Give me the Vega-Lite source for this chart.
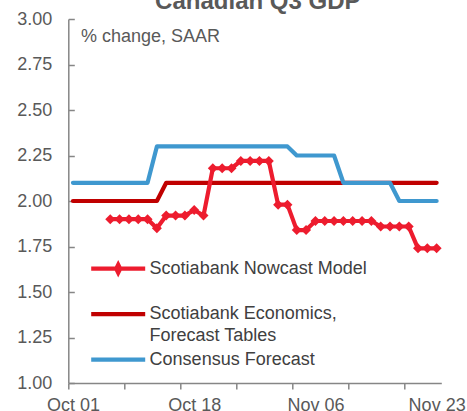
{
  "$schema": "https://vega.github.io/schema/vega-lite/v6.json",
  "autosize": {"type": "none"},
  "width": 373,
  "height": 364,
  "padding": {"left": 68.3, "top": 19, "right": 25.7, "bottom": 28},
  "background": "white",
  "title": {
    "text": "Canadian Q3 GDP",
    "anchor": "middle",
    "frame": "group",
    "baseline": "alphabetic",
    "offset": 0,
    "dy": 23,
    "dx": 3,
    "fontSize": 24,
    "fontWeight": "bold",
    "font": "Liberation Sans",
    "color": "#595959"
  },
  "config": {
    "view": {"stroke": null},
    "font": "Liberation Sans",
    "axis": {"grid": false, "title": null}
  },
  "datasets": {
    "gdp": [
      {"date": "2018-10-01", "series": "Scotiabank Economics, Forecast Tables", "value": 2.0},
      {"date": "2018-10-02", "series": "Scotiabank Economics, Forecast Tables", "value": 2.0},
      {"date": "2018-10-03", "series": "Scotiabank Economics, Forecast Tables", "value": 2.0},
      {"date": "2018-10-04", "series": "Scotiabank Economics, Forecast Tables", "value": 2.0},
      {"date": "2018-10-05", "series": "Scotiabank Economics, Forecast Tables", "value": 2.0},
      {"date": "2018-10-08", "series": "Scotiabank Economics, Forecast Tables", "value": 2.0},
      {"date": "2018-10-09", "series": "Scotiabank Economics, Forecast Tables", "value": 2.0},
      {"date": "2018-10-10", "series": "Scotiabank Economics, Forecast Tables", "value": 2.0},
      {"date": "2018-10-11", "series": "Scotiabank Economics, Forecast Tables", "value": 2.0},
      {"date": "2018-10-12", "series": "Scotiabank Economics, Forecast Tables", "value": 2.0},
      {"date": "2018-10-15", "series": "Scotiabank Economics, Forecast Tables", "value": 2.1},
      {"date": "2018-10-16", "series": "Scotiabank Economics, Forecast Tables", "value": 2.1},
      {"date": "2018-10-17", "series": "Scotiabank Economics, Forecast Tables", "value": 2.1},
      {"date": "2018-10-18", "series": "Scotiabank Economics, Forecast Tables", "value": 2.1},
      {"date": "2018-10-19", "series": "Scotiabank Economics, Forecast Tables", "value": 2.1},
      {"date": "2018-10-22", "series": "Scotiabank Economics, Forecast Tables", "value": 2.1},
      {"date": "2018-10-23", "series": "Scotiabank Economics, Forecast Tables", "value": 2.1},
      {"date": "2018-10-24", "series": "Scotiabank Economics, Forecast Tables", "value": 2.1},
      {"date": "2018-10-25", "series": "Scotiabank Economics, Forecast Tables", "value": 2.1},
      {"date": "2018-10-26", "series": "Scotiabank Economics, Forecast Tables", "value": 2.1},
      {"date": "2018-10-29", "series": "Scotiabank Economics, Forecast Tables", "value": 2.1},
      {"date": "2018-10-30", "series": "Scotiabank Economics, Forecast Tables", "value": 2.1},
      {"date": "2018-10-31", "series": "Scotiabank Economics, Forecast Tables", "value": 2.1},
      {"date": "2018-11-01", "series": "Scotiabank Economics, Forecast Tables", "value": 2.1},
      {"date": "2018-11-02", "series": "Scotiabank Economics, Forecast Tables", "value": 2.1},
      {"date": "2018-11-05", "series": "Scotiabank Economics, Forecast Tables", "value": 2.1},
      {"date": "2018-11-06", "series": "Scotiabank Economics, Forecast Tables", "value": 2.1},
      {"date": "2018-11-07", "series": "Scotiabank Economics, Forecast Tables", "value": 2.1},
      {"date": "2018-11-08", "series": "Scotiabank Economics, Forecast Tables", "value": 2.1},
      {"date": "2018-11-09", "series": "Scotiabank Economics, Forecast Tables", "value": 2.1},
      {"date": "2018-11-12", "series": "Scotiabank Economics, Forecast Tables", "value": 2.1},
      {"date": "2018-11-13", "series": "Scotiabank Economics, Forecast Tables", "value": 2.1},
      {"date": "2018-11-14", "series": "Scotiabank Economics, Forecast Tables", "value": 2.1},
      {"date": "2018-11-15", "series": "Scotiabank Economics, Forecast Tables", "value": 2.1},
      {"date": "2018-11-16", "series": "Scotiabank Economics, Forecast Tables", "value": 2.1},
      {"date": "2018-11-19", "series": "Scotiabank Economics, Forecast Tables", "value": 2.1},
      {"date": "2018-11-20", "series": "Scotiabank Economics, Forecast Tables", "value": 2.1},
      {"date": "2018-11-21", "series": "Scotiabank Economics, Forecast Tables", "value": 2.1},
      {"date": "2018-11-22", "series": "Scotiabank Economics, Forecast Tables", "value": 2.1},
      {"date": "2018-11-23", "series": "Scotiabank Economics, Forecast Tables", "value": 2.1},
      {"date": "2018-10-01", "series": "Consensus Forecast", "value": 2.1},
      {"date": "2018-10-02", "series": "Consensus Forecast", "value": 2.1},
      {"date": "2018-10-03", "series": "Consensus Forecast", "value": 2.1},
      {"date": "2018-10-04", "series": "Consensus Forecast", "value": 2.1},
      {"date": "2018-10-05", "series": "Consensus Forecast", "value": 2.1},
      {"date": "2018-10-08", "series": "Consensus Forecast", "value": 2.1},
      {"date": "2018-10-09", "series": "Consensus Forecast", "value": 2.1},
      {"date": "2018-10-10", "series": "Consensus Forecast", "value": 2.1},
      {"date": "2018-10-11", "series": "Consensus Forecast", "value": 2.1},
      {"date": "2018-10-12", "series": "Consensus Forecast", "value": 2.3},
      {"date": "2018-10-15", "series": "Consensus Forecast", "value": 2.3},
      {"date": "2018-10-16", "series": "Consensus Forecast", "value": 2.3},
      {"date": "2018-10-17", "series": "Consensus Forecast", "value": 2.3},
      {"date": "2018-10-18", "series": "Consensus Forecast", "value": 2.3},
      {"date": "2018-10-19", "series": "Consensus Forecast", "value": 2.3},
      {"date": "2018-10-22", "series": "Consensus Forecast", "value": 2.3},
      {"date": "2018-10-23", "series": "Consensus Forecast", "value": 2.3},
      {"date": "2018-10-24", "series": "Consensus Forecast", "value": 2.3},
      {"date": "2018-10-25", "series": "Consensus Forecast", "value": 2.3},
      {"date": "2018-10-26", "series": "Consensus Forecast", "value": 2.3},
      {"date": "2018-10-29", "series": "Consensus Forecast", "value": 2.3},
      {"date": "2018-10-30", "series": "Consensus Forecast", "value": 2.3},
      {"date": "2018-10-31", "series": "Consensus Forecast", "value": 2.3},
      {"date": "2018-11-01", "series": "Consensus Forecast", "value": 2.3},
      {"date": "2018-11-02", "series": "Consensus Forecast", "value": 2.25},
      {"date": "2018-11-05", "series": "Consensus Forecast", "value": 2.25},
      {"date": "2018-11-06", "series": "Consensus Forecast", "value": 2.25},
      {"date": "2018-11-07", "series": "Consensus Forecast", "value": 2.25},
      {"date": "2018-11-08", "series": "Consensus Forecast", "value": 2.25},
      {"date": "2018-11-09", "series": "Consensus Forecast", "value": 2.1},
      {"date": "2018-11-12", "series": "Consensus Forecast", "value": 2.1},
      {"date": "2018-11-13", "series": "Consensus Forecast", "value": 2.1},
      {"date": "2018-11-14", "series": "Consensus Forecast", "value": 2.1},
      {"date": "2018-11-15", "series": "Consensus Forecast", "value": 2.1},
      {"date": "2018-11-16", "series": "Consensus Forecast", "value": 2.1},
      {"date": "2018-11-19", "series": "Consensus Forecast", "value": 2.0},
      {"date": "2018-11-20", "series": "Consensus Forecast", "value": 2.0},
      {"date": "2018-11-21", "series": "Consensus Forecast", "value": 2.0},
      {"date": "2018-11-22", "series": "Consensus Forecast", "value": 2.0},
      {"date": "2018-11-23", "series": "Consensus Forecast", "value": 2.0},
      {"date": "2018-10-05", "series": "Scotiabank Nowcast Model", "value": 1.9},
      {"date": "2018-10-08", "series": "Scotiabank Nowcast Model", "value": 1.9},
      {"date": "2018-10-09", "series": "Scotiabank Nowcast Model", "value": 1.9},
      {"date": "2018-10-10", "series": "Scotiabank Nowcast Model", "value": 1.9},
      {"date": "2018-10-11", "series": "Scotiabank Nowcast Model", "value": 1.9},
      {"date": "2018-10-12", "series": "Scotiabank Nowcast Model", "value": 1.85},
      {"date": "2018-10-15", "series": "Scotiabank Nowcast Model", "value": 1.92},
      {"date": "2018-10-16", "series": "Scotiabank Nowcast Model", "value": 1.92},
      {"date": "2018-10-17", "series": "Scotiabank Nowcast Model", "value": 1.92},
      {"date": "2018-10-18", "series": "Scotiabank Nowcast Model", "value": 1.95},
      {"date": "2018-10-19", "series": "Scotiabank Nowcast Model", "value": 1.92},
      {"date": "2018-10-22", "series": "Scotiabank Nowcast Model", "value": 2.18},
      {"date": "2018-10-23", "series": "Scotiabank Nowcast Model", "value": 2.18},
      {"date": "2018-10-24", "series": "Scotiabank Nowcast Model", "value": 2.18},
      {"date": "2018-10-25", "series": "Scotiabank Nowcast Model", "value": 2.22},
      {"date": "2018-10-26", "series": "Scotiabank Nowcast Model", "value": 2.22},
      {"date": "2018-10-29", "series": "Scotiabank Nowcast Model", "value": 2.22},
      {"date": "2018-10-30", "series": "Scotiabank Nowcast Model", "value": 2.22},
      {"date": "2018-10-31", "series": "Scotiabank Nowcast Model", "value": 1.98},
      {"date": "2018-11-01", "series": "Scotiabank Nowcast Model", "value": 1.98},
      {"date": "2018-11-02", "series": "Scotiabank Nowcast Model", "value": 1.84},
      {"date": "2018-11-05", "series": "Scotiabank Nowcast Model", "value": 1.84},
      {"date": "2018-11-06", "series": "Scotiabank Nowcast Model", "value": 1.89},
      {"date": "2018-11-07", "series": "Scotiabank Nowcast Model", "value": 1.89},
      {"date": "2018-11-08", "series": "Scotiabank Nowcast Model", "value": 1.89},
      {"date": "2018-11-09", "series": "Scotiabank Nowcast Model", "value": 1.89},
      {"date": "2018-11-12", "series": "Scotiabank Nowcast Model", "value": 1.89},
      {"date": "2018-11-13", "series": "Scotiabank Nowcast Model", "value": 1.89},
      {"date": "2018-11-14", "series": "Scotiabank Nowcast Model", "value": 1.89},
      {"date": "2018-11-15", "series": "Scotiabank Nowcast Model", "value": 1.86},
      {"date": "2018-11-16", "series": "Scotiabank Nowcast Model", "value": 1.86},
      {"date": "2018-11-19", "series": "Scotiabank Nowcast Model", "value": 1.86},
      {"date": "2018-11-20", "series": "Scotiabank Nowcast Model", "value": 1.86},
      {"date": "2018-11-21", "series": "Scotiabank Nowcast Model", "value": 1.74},
      {"date": "2018-11-22", "series": "Scotiabank Nowcast Model", "value": 1.74},
      {"date": "2018-11-23", "series": "Scotiabank Nowcast Model", "value": 1.74}
    ]
  },
  "data": {"name": "gdp"},
  "resolve": {"axis": {"x": "independent"}},
  "layer": [
    {
      "mark": {"type": "line", "strokeWidth": 4.2, "strokeCap": "round", "strokeJoin": "round"},
      "encoding": {
        "x": {
          "field": "date", "type": "ordinal",
          "scale": {"type": "point", "padding": 0.5},
          "axis": {
            "orient": "bottom",
            "values": ["2018-10-01", "2018-10-09", "2018-10-17", "2018-10-25", "2018-11-02", "2018-11-12", "2018-11-20"],
            "labels": false,
            "ticks": true,
            "tickSize": 6,
            "tickOffset": -4.66,
            "tickColor": "#868686",
            "tickWidth": 1.5,
            "domainColor": "#868686",
            "domainWidth": 1.5
          }
        },
        "y": {
          "field": "value", "type": "quantitative",
          "scale": {"domain": [1, 3], "nice": false, "zero": false},
          "axis": {
            "values": [1, 1.25, 1.5, 1.75, 2, 2.25, 2.5, 2.75, 3],
            "format": ".2f",
            "labelFontSize": 18,
            "labelColor": "#595959",
            "tickSize": -6,
            "labelPadding": 22.6,
            "tickColor": "#868686",
            "tickWidth": 1.5,
            "domainColor": "#868686",
            "domainWidth": 1.5
          }
        },
        "color": {
          "field": "series", "type": "nominal",
          "scale": {
            "domain": ["Scotiabank Nowcast Model", "Scotiabank Economics, Forecast Tables", "Consensus Forecast"],
            "range": ["#ed1c2e", "#c00000", "#3f98cf"]
          },
          "legend": {
            "title": null,
            "orient": "none",
            "legendX": 37.4,
            "legendY": 237.2,
            "padding": 0,
            "rowPadding": 1.5,
            "symbolType": "stroke",
            "symbolSize": 400,
            "symbolStrokeWidth": 4.2,
            "labelFontSize": 18,
            "labelColor": "#404040",
            "labelOffset": 18.9,
            "labelLimit": 400,
            "labelExpr": "datum.label == 'Scotiabank Economics, Forecast Tables' ? ['Scotiabank Economics,', 'Forecast Tables'] : datum.label == 'Scotiabank Nowcast Model' ? ['Scotiabank Nowcast Model', ' '] : datum.label",
            "encode": {
              "symbols": {
                "update": {
                  "shape": {"signal": "datum.value == 'Scotiabank Nowcast Model' ? 'M-2.7,0L2.7,0M0,-0.4L0.2,0L0,0.4L-0.2,0Z' : 'M-2.7,0L2.7,0'"},
                  "fill": {"signal": "datum.value == 'Scotiabank Nowcast Model' ? '#ed1c2e' : 'transparent'"}
                }
              },
              "labels": {
                "update": {
                  "lineHeight": {"value": 22}
                }
              }
            }
          }
        }
      }
    },
    {
      "transform": [{"filter": "datum.series == 'Scotiabank Nowcast Model'"}],
      "mark": {"type": "point", "shape": "diamond", "filled": true, "size": 100, "opacity": 1, "color": "#ed1c2e"},
      "encoding": {
        "x": {
          "field": "date", "type": "ordinal",
          "axis": {
            "orient": "bottom",
            "values": ["2018-10-01", "2018-10-18", "2018-11-06", "2018-11-23"],
            "labelExpr": "utcFormat(toDate(datum.value), '%b %d')",
            "ticks": false,
            "tickSize": 0,
            "domain": false,
            "labelAngle": 0,
            "labelFontSize": 18,
            "labelColor": "#595959",
            "labelPadding": 13
          }
        },
        "y": {"field": "value", "type": "quantitative"}
      }
    },
    {
      "data": {"values": [{"note": "% change, SAAR"}]},
      "mark": {"type": "text", "align": "left", "baseline": "middle", "dx": 8, "fontSize": 18, "color": "#595959"},
      "encoding": {
        "x": {"datum": "2018-10-01", "type": "ordinal", "axis": null},
        "y": {"datum": 2.9, "type": "quantitative"},
        "text": {"field": "note", "type": "nominal"}
      }
    }
  ]
}
